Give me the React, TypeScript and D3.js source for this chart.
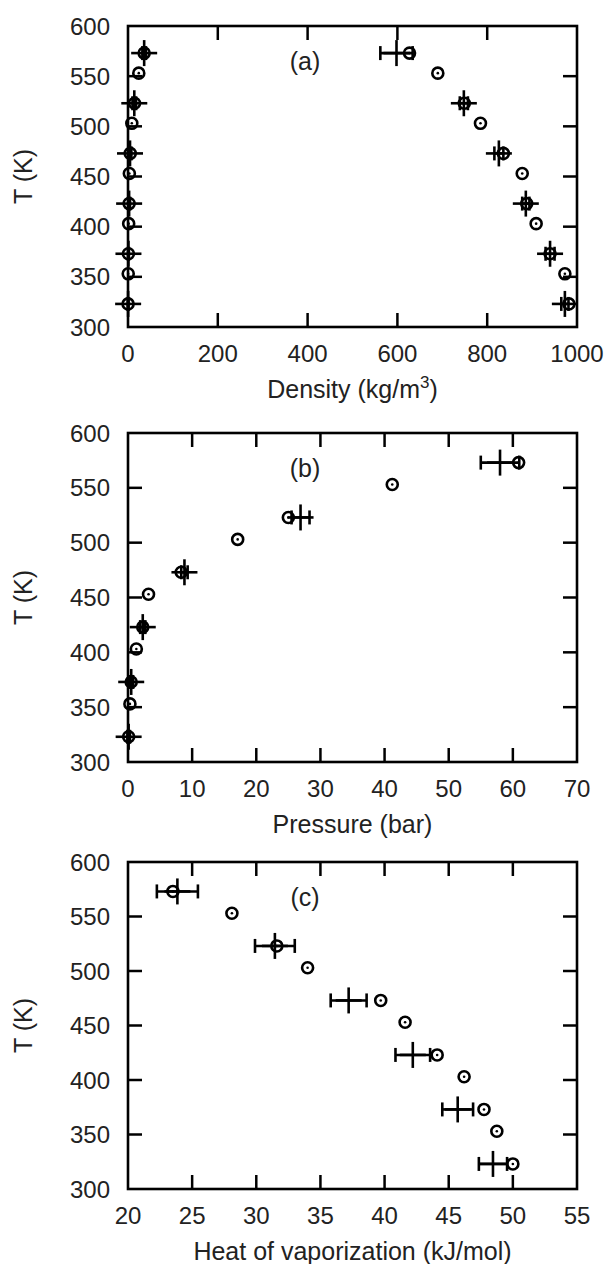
import React from "react";
import * as d3 from "d3";

// ---------- data ----------
const temps = [323, 353, 373, 403, 423, 453, 473, 503, 523, 553, 573];
const simTemps = [323, 373, 423, 473, 523, 573];

const expVaporDensity = [0.2, 0.5, 0.9, 1.5, 2.5, 3, 5, 8.5, 14.5, 24, 36];
const expLiquidDensity = [982, 973, 940, 909, 888, 878, 836, 785, 749, 690, 627];
const simVaporDensity = [0.3, 1, 2.5, 4.5, 14, 36];
const simVaporDensityErr = [1, 1, 2, 3, 4, 4];
const simLiquidDensity = [973, 940, 886, 826, 748, 598];
const simLiquidDensityErr = [8, 10, 8, 10, 9, 36];

const expPressure = [0.1, 0.3, 0.5, 1.3, 2.3, 3.2, 8.3, 17.1, 25.0, 41.2, 60.9];
const simPressure = [0.1, 0.5, 2.3, 8.8, 26.9, 58.0];
const simPressureErr = [0.2, 0.3, 0.4, 0.5, 1.4, 3.0];

const expHvap = [50.0, 48.75, 47.75, 46.2, 44.1, 41.6, 39.7, 34.0, 31.6, 28.1, 23.5];
const simHvap = [48.45, 45.7, 42.2, 37.2, 31.45, 23.85];
const simHvapErr = [1.1, 1.2, 1.35, 1.4, 1.55, 1.6];

const tempTicks = [300, 350, 400, 450, 500, 550, 600];
const densityTicks = [0, 200, 400, 600, 800, 1000];
const pressureTicks = [0, 10, 20, 30, 40, 50, 60, 70];
const hvapTicks = [20, 25, 30, 35, 40, 45, 50, 55];

// ---------- layout ----------
const W = 608;
const H = 1264;
const LEFT = 128;
const RIGHT = 577;
const FONT = "'Liberation Sans', Arial, Helvetica, sans-serif";
const FS = 24;
const TICK = 14;
const MS = 2.6; // marker stroke

type Sim = { x: number[]; err: number[] };
type PanelDef = {
  key: string;
  label: string;
  top: number;
  bottom: number;
  xTicks: number[];
  exp: number[][];
  sim: Sim[];
  title: React.ReactNode;
};

const panels: PanelDef[] = [
  {
    key: "a",
    label: "(a)",
    top: 26,
    bottom: 327,
    xTicks: densityTicks,
    exp: [expVaporDensity, expLiquidDensity],
    sim: [
      { x: simVaporDensity, err: simVaporDensityErr },
      { x: simLiquidDensity, err: simLiquidDensityErr },
    ],
    title: (
      <>
        Density (kg/m
        <tspan fontSize={17} dy={-10}>
          3
        </tspan>
        <tspan dy={10}>)</tspan>
      </>
    ),
  },
  {
    key: "b",
    label: "(b)",
    top: 433,
    bottom: 762,
    xTicks: pressureTicks,
    exp: [expPressure],
    sim: [{ x: simPressure, err: simPressureErr }],
    title: "Pressure (bar)",
  },
  {
    key: "c",
    label: "(c)",
    top: 862,
    bottom: 1189,
    xTicks: hvapTicks,
    exp: [expHvap],
    sim: [{ x: simHvap, err: simHvapErr }],
    title: "Heat of vaporization (kJ/mol)",
  },
];

function Panel({ p }: { p: PanelDef }) {
  const x = d3
    .scaleLinear()
    .domain([p.xTicks[0], p.xTicks[p.xTicks.length - 1]])
    .range([LEFT, RIGHT]);
  const y = d3
    .scaleLinear()
    .domain([tempTicks[0], tempTicks[tempTicks.length - 1]])
    .range([p.bottom, p.top]);
  const midY = (p.top + p.bottom) / 2;
  const inner = (v: number, arr: number[]) => v !== arr[0] && v !== arr[arr.length - 1];

  return (
    <g>
      {/* ticks */}
      {p.xTicks.filter((t) => inner(t, p.xTicks)).map((t) => (
        <g key={"xt" + t}>
          <line x1={x(t)} x2={x(t)} y1={p.bottom} y2={p.bottom - TICK} stroke="#000" strokeWidth={2.5} />
          <line x1={x(t)} x2={x(t)} y1={p.top} y2={p.top + TICK} stroke="#000" strokeWidth={2.5} />
        </g>
      ))}
      {tempTicks.filter((t) => inner(t, tempTicks)).map((t) => (
        <g key={"yt" + t}>
          <line x1={LEFT} x2={LEFT + TICK} y1={y(t)} y2={y(t)} stroke="#000" strokeWidth={2.5} />
          <line x1={RIGHT} x2={RIGHT - TICK} y1={y(t)} y2={y(t)} stroke="#000" strokeWidth={2.5} />
        </g>
      ))}
      {/* frame */}
      <rect
        x={LEFT}
        y={p.top}
        width={RIGHT - LEFT}
        height={p.bottom - p.top}
        fill="none"
        stroke="#000"
        strokeWidth={2.6}
      />
      {/* tick labels */}
      {p.xTicks.map((t) => (
        <text key={"xl" + t} x={x(t)} y={p.bottom + 35} textAnchor="middle" fontSize={FS} fontFamily={FONT} fill="#222">
          {t}
        </text>
      ))}
      {tempTicks.map((t) => (
        <text key={"yl" + t} x={110} y={y(t)} dy="0.36em" textAnchor="end" fontSize={FS} fontFamily={FONT} fill="#222">
          {t}
        </text>
      ))}
      {/* axis titles */}
      <text x={(LEFT + RIGHT) / 2} y={p.bottom + 71} textAnchor="middle" fontSize={FS + 1} fontFamily={FONT} fill="#222">
        {p.title}
      </text>
      <text
        transform={`translate(32,${midY}) rotate(-90)`}
        textAnchor="middle"
        fontSize={FS + 1}
        fontFamily={FONT}
        fill="#222"
      >
        T (K)
      </text>
      <text x={305} y={p.top + 44} textAnchor="middle" fontSize={FS + 1} fontFamily={FONT} fill="#222">
        {p.label}
      </text>
      {/* experimental circles */}
      {p.exp.map((series, si) =>
        series.map((v, i) => (
          <g key={`e${si}-${i}`}>
            <circle cx={x(v)} cy={y(temps[i])} r={5.5} fill="none" stroke="#000" strokeWidth={MS} />
            <circle cx={x(v)} cy={y(temps[i])} r={1.3} fill="#000" />
          </g>
        ))
      )}
      {/* simulation crosses with x error bars */}
      {p.sim.map((s, si) =>
        s.x.map((v, i) => {
          const cx = x(v);
          const cy = y(simTemps[i]);
          const lo = x(v - s.err[i]);
          const hi = x(v + s.err[i]);
          return (
            <g key={`s${si}-${i}`} stroke="#000" strokeWidth={MS}>
              <line x1={cx - 13} x2={cx + 13} y1={cy} y2={cy} />
              <line x1={cx} x2={cx} y1={cy - 13} y2={cy + 13} />
              <line x1={lo} x2={hi} y1={cy} y2={cy} />
              <line x1={lo} x2={lo} y1={cy - 7} y2={cy + 7} />
              <line x1={hi} x2={hi} y1={cy - 7} y2={cy + 7} />
            </g>
          );
        })
      )}
    </g>
  );
}

export default function App() {
  return (
    <svg
      width={W}
      height={H}
      viewBox={`0 0 ${W} ${H}`}
      style={{ position: "absolute", left: 0, top: 0, background: "#fff" }}
    >
      <rect x={0} y={0} width={W} height={H} fill="#fff" />
      {panels.map((p) => (
        <Panel key={p.key} p={p} />
      ))}
    </svg>
  );
}
